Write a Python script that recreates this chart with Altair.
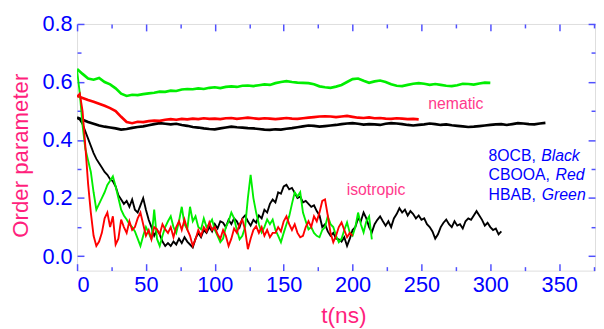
import altair as alt
import pandas as pd

# ---------------- data ----------------
X_TICKS = [0, 50, 100, 150, 200, 250, 300, 350]
X_MINOR = [25, 75, 125, 175, 225, 275, 325, 375]
Y_TICKS = [0.0, 0.2, 0.4, 0.6, 0.8]
Y_MINOR = [0.1, 0.3, 0.5, 0.7]

ISO_STEP = 2   # ns between samples
NEM_STEP = 4

iso_black = [
    0.475, 0.47, 0.455, 0.43, 0.405, 0.38, 0.355, 0.335, 0.32, 0.305,
    0.29, 0.28, 0.265, 0.258, 0.24, 0.21, 0.195, 0.18, 0.19, 0.17,
    0.195, 0.16, 0.15, 0.175, 0.2, 0.16, 0.125, 0.1, 0.07, 0.09,
    0.075, 0.05, 0.035, 0.045, 0.035, 0.05, 0.04, 0.06, 0.045, 0.065,
    0.05, 0.04, 0.03, 0.06, 0.08, 0.065, 0.09, 0.08, 0.1, 0.085,
    0.11, 0.095, 0.12, 0.115, 0.1, 0.125, 0.11, 0.13, 0.12, 0.1,
    0.13, 0.14, 0.12, 0.105, 0.125, 0.115, 0.14, 0.13, 0.16, 0.15,
    0.18, 0.195, 0.185, 0.22, 0.215, 0.24, 0.246, 0.23, 0.235, 0.218,
    0.2, 0.205, 0.185, 0.19, 0.18, 0.17, 0.175, 0.155, 0.14, 0.1,
    0.11, 0.085, 0.07, 0.08, 0.06, 0.058, 0.05, 0.065, 0.035, 0.06,
    0.09, 0.1, 0.13, 0.12, 0.15, 0.13, 0.1, 0.082, 0.11, 0.125,
    0.137, 0.12, 0.105, 0.12, 0.1, 0.13, 0.145, 0.165, 0.15, 0.16,
    0.14, 0.155, 0.145, 0.13, 0.14, 0.125, 0.13, 0.11, 0.1, 0.085,
    0.06, 0.075, 0.1, 0.115, 0.126, 0.11, 0.1, 0.12, 0.105, 0.11,
    0.095, 0.12, 0.13, 0.125, 0.14, 0.155, 0.14, 0.125, 0.105, 0.115,
    0.1, 0.09, 0.095, 0.075, 0.085,
]

iso_red = [
    0.55, 0.56, 0.5, 0.38, 0.25, 0.15, 0.07, 0.035, 0.05, 0.08,
    0.13, 0.15, 0.1, 0.137, 0.04, 0.06, 0.126, 0.1, 0.08, 0.12,
    0.09, 0.1, 0.13, 0.15, 0.11, 0.07, 0.09, 0.058, 0.1, 0.092,
    0.075, 0.11, 0.092, 0.08, 0.1, 0.065, 0.1, 0.12, 0.09, 0.126,
    0.092, 0.07, 0.035, 0.058, 0.09, 0.07, 0.1, 0.085, 0.116, 0.09,
    0.1, 0.075, 0.06, 0.09, 0.07, 0.035, 0.06, 0.095, 0.08, 0.11,
    0.126, 0.09, 0.024, 0.06, 0.09, 0.103, 0.08, 0.1, 0.07, 0.09,
    0.065, 0.08, 0.08, 0.1, 0.085, 0.12, 0.137, 0.11, 0.09, 0.11,
    0.08, 0.065, 0.07, 0.1, 0.12, 0.1, 0.137, 0.12, 0.15, 0.19,
    0.195, 0.14, 0.08, 0.048, 0.07, 0.1, 0.116, 0.09, 0.065, 0.08,
    0.07,
]

iso_green = [
    0.64, 0.56, 0.45, 0.37, 0.33, 0.29, 0.22, 0.16, 0.18, 0.2,
    0.22, 0.245, 0.26, 0.275, 0.24, 0.2, 0.16, 0.14, 0.126, 0.11,
    0.1, 0.085, 0.06, 0.035, 0.07, 0.1, 0.08, 0.058, 0.16, 0.06,
    0.035, 0.07, 0.1, 0.12, 0.137, 0.1, 0.08, 0.12, 0.17, 0.11,
    0.092, 0.17, 0.12, 0.137, 0.1, 0.092, 0.13, 0.1, 0.11, 0.126,
    0.09, 0.07, 0.048, 0.06, 0.1, 0.12, 0.15, 0.13, 0.09, 0.058,
    0.07, 0.1, 0.2, 0.28, 0.2, 0.15, 0.11, 0.082, 0.1, 0.126,
    0.11, 0.126, 0.09, 0.07, 0.048, 0.08, 0.11, 0.137, 0.18, 0.22,
    0.205, 0.22, 0.15, 0.12, 0.092, 0.1, 0.08, 0.07, 0.065, 0.09,
    0.1, 0.137, 0.11, 0.1, 0.07, 0.048, 0.06, 0.09, 0.116, 0.08,
    0.07, 0.1, 0.15, 0.11, 0.082, 0.12, 0.137, 0.058,
]

nem_black = [
    0.478, 0.47, 0.462, 0.456, 0.45, 0.446, 0.443, 0.44, 0.436, 0.438,
    0.442, 0.445, 0.447, 0.451, 0.455, 0.458, 0.456, 0.454, 0.456, 0.452,
    0.449, 0.445, 0.443, 0.44, 0.438, 0.437, 0.44, 0.443, 0.446, 0.444,
    0.443, 0.441, 0.44, 0.438, 0.436, 0.435, 0.437, 0.436, 0.439, 0.441,
    0.444, 0.447, 0.45, 0.449, 0.446, 0.448, 0.45, 0.452, 0.455, 0.457,
    0.458, 0.456, 0.453, 0.455, 0.454, 0.452, 0.456, 0.458, 0.457, 0.455,
    0.452, 0.45, 0.452, 0.454, 0.457, 0.455, 0.452, 0.454, 0.451, 0.449,
    0.447, 0.445, 0.446, 0.448, 0.45, 0.452, 0.454, 0.455, 0.452, 0.455,
    0.458, 0.457, 0.455, 0.454, 0.457, 0.459,
]

nem_red = [
    0.552, 0.545, 0.538, 0.532, 0.525, 0.518, 0.51, 0.5, 0.48, 0.462,
    0.458, 0.463, 0.462, 0.465, 0.467, 0.466, 0.47, 0.472, 0.47, 0.473,
    0.471, 0.474, 0.472, 0.475, 0.473, 0.474, 0.472, 0.475, 0.476, 0.473,
    0.475, 0.477, 0.475, 0.473, 0.475, 0.474, 0.472, 0.474, 0.476, 0.474,
    0.473, 0.475, 0.477, 0.479, 0.481, 0.482, 0.481, 0.479, 0.481, 0.483,
    0.48, 0.477, 0.476, 0.478, 0.475, 0.476, 0.474, 0.473, 0.475, 0.474,
    0.472, 0.473, 0.471,
]

nem_green = [
    0.645, 0.628, 0.612, 0.608, 0.614, 0.6, 0.592, 0.578, 0.56, 0.552,
    0.556, 0.555, 0.558, 0.561, 0.563, 0.567, 0.566, 0.57, 0.569, 0.574,
    0.576, 0.575, 0.578, 0.576, 0.58, 0.582, 0.579, 0.583, 0.585, 0.583,
    0.587, 0.588, 0.586, 0.589, 0.592, 0.59, 0.596, 0.6, 0.603, 0.6,
    0.598, 0.597, 0.596, 0.592, 0.585, 0.582, 0.58, 0.584, 0.59, 0.6,
    0.61, 0.612, 0.604, 0.597, 0.602, 0.605, 0.6, 0.592, 0.587, 0.586,
    0.59, 0.594, 0.596, 0.594, 0.59, 0.593, 0.59, 0.587, 0.586, 0.589,
    0.594, 0.593, 0.591, 0.595, 0.598, 0.597,
]

annot_labels = ["nematic", "isotropic"]
annot_t = [275.0, 217.0]
annot_v = [0.508, 0.212]

legend_names = ["8OCB, ", "CBOOA, ", "HBAB, "]
legend_colors = ["Black", "Red", "Green"]
legend_t = [298.7, 298.7, 298.7]
legend_color_t = [336.9, 347.4, 337.4]
legend_v = [0.328, 0.262, 0.195]

# ---------------- styling ----------------
FONT = "Liberation Sans"
BLUE = "#0000ff"
FRAME = "#5050ff"
PINK = "#ff1f7d"
PINK2 = "#ff3a8c"


def series(vals, step, name):
    return pd.DataFrame({"t": [i * step for i in range(len(vals))], "v": vals, "series": name})


xscale = alt.Scale(domain=[0, 376], nice=False, zero=False)
yscale = alt.Scale(domain=[-0.05, 0.8], nice=False, zero=False)


def tick_axis(orient, values, size):
    return alt.Axis(orient=orient, values=values, tickSize=size, offset=-size,
                    domain=False, labels=False, grid=False, title=None,
                    ticks=True, tickColor=FRAME, tickWidth=1.5)


x_label_axis = alt.Axis(orient="bottom", values=X_TICKS, format="d", ticks=False, tickSize=0,
                        domain=False, grid=False, labelFontSize=22, labelColor=BLUE,
                        labelFont=FONT, labelPadding=4, title="t(ns)", titleColor=PINK,
                        titleFont=FONT, titleFontSize=23, titleFontWeight="normal",
                        titleX=270, titleY=46, titleBaseline="middle", titleAlign="center")
y_label_axis = alt.Axis(orient="left", values=Y_TICKS, format=".1f", ticks=False, tickSize=0,
                        domain=False, grid=False, labelFontSize=22, labelColor=BLUE,
                        labelFont=FONT, labelPadding=5, title="Order parameter",
                        titleColor=PINK, titleFont=FONT, titleFontSize=22.5,
                        titleFontWeight="normal", titleX=-57, titleY=133,
                        titleAngle=270, titleBaseline="middle", titleAlign="center")

axes = [
    (x_label_axis, y_label_axis),
    (tick_axis("bottom", X_TICKS, 7), tick_axis("left", Y_TICKS, 7)),
    (tick_axis("bottom", X_MINOR, 4), tick_axis("left", Y_MINOR, 4)),
    (tick_axis("top", X_TICKS, 7), tick_axis("right", Y_TICKS, 7)),
    (tick_axis("top", X_MINOR, 4), tick_axis("right", Y_MINOR, 4)),
]

line_specs = [
    (series(nem_black, NEM_STEP, "nem_black"), "#000000", 2.7),
    (series(nem_red, NEM_STEP, "nem_red"), "#ff0000", 2.7),
    (series(nem_green, NEM_STEP, "nem_green"), "#00ee00", 2.7),
    (series(iso_black, ISO_STEP, "iso_black"), "#000000", 1.9),
    (series(iso_green, ISO_STEP, "iso_green"), "#00ee00", 1.9),
    (series(iso_red, ISO_STEP, "iso_red"), "#ff0000", 1.9),
]

layers = []
for i, (df, color, w) in enumerate(line_specs):
    if i < len(axes):
        xa, ya = axes[i]
    else:
        xa, ya = None, None
    layers.append(
        alt.Chart(df).mark_line(color=color, strokeWidth=w, clip=True,
                                strokeJoin="miter").encode(
            x=alt.X("t:Q", scale=xscale, axis=xa),
            y=alt.Y("v:Q", scale=yscale, axis=ya),
            detail="series:N",
        )
    )

annot_df = pd.DataFrame({"t": annot_t, "v": annot_v, "label": annot_labels})
layers.append(
    alt.Chart(annot_df).mark_text(font=FONT, fontSize=16, color=PINK2, align="center",
                                  baseline="alphabetic").encode(
        x=alt.X("t:Q", scale=xscale, axis=None),
        y=alt.Y("v:Q", scale=yscale, axis=None),
        text="label:N",
    )
)

leg_df = pd.DataFrame({"t": legend_t, "v": legend_v, "label": legend_names})
layers.append(
    alt.Chart(leg_df).mark_text(font=FONT, fontSize=16, color=BLUE, align="left",
                                baseline="alphabetic").encode(
        x=alt.X("t:Q", scale=xscale, axis=None),
        y=alt.Y("v:Q", scale=yscale, axis=None),
        text="label:N",
    )
)
leg2_df = pd.DataFrame({"t": legend_color_t, "v": legend_v, "label": legend_colors})
layers.append(
    alt.Chart(leg2_df).mark_text(font=FONT, fontSize=16, color=BLUE, align="left",
                                 baseline="alphabetic", fontStyle="italic").encode(
        x=alt.X("t:Q", scale=xscale, axis=None),
        y=alt.Y("v:Q", scale=yscale, axis=None),
        text="label:N",
    )
)

chart = alt.layer(*layers).resolve_axis(x="independent", y="independent").properties(
    width=525, height=250,
    autosize=alt.AutoSizeParams(type="none"),
    padding={"left": 70, "top": 14, "right": 1, "bottom": 57},
).configure_view(stroke=FRAME, strokeWidth=1.5).configure(font=FONT, background="white")

chart.save("out.html", embed_options={"renderer": "svg", "actions": False})
